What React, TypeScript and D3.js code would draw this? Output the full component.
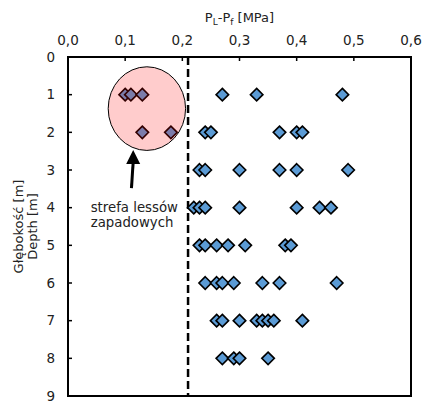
import React from "react";
import * as d3 from "d3";

const xTicks = [0, 0.1, 0.2, 0.3, 0.4, 0.5, 0.6];
const yTicks = [0, 1, 2, 3, 4, 5, 6, 7, 8, 9];
const depths = [1, 2, 3, 4, 5, 6, 7, 8];
const depth1 = [0.1, 0.11, 0.13, 0.27, 0.33, 0.48];
const depth2 = [0.13, 0.18, 0.24, 0.25, 0.37, 0.4, 0.41];
const depth3 = [0.23, 0.24, 0.3, 0.37, 0.4, 0.49];
const depth4 = [0.22, 0.23, 0.24, 0.3, 0.4, 0.44, 0.46];
const depth5 = [0.23, 0.24, 0.26, 0.28, 0.31, 0.38, 0.39];
const depth6 = [0.24, 0.26, 0.27, 0.29, 0.34, 0.37, 0.47];
const depth7 = [0.26, 0.27, 0.3, 0.33, 0.34, 0.35, 0.36, 0.41];
const depth8 = [0.27, 0.29, 0.3, 0.35];
const rows = [depth1, depth2, depth3, depth4, depth5, depth6, depth7, depth8];
const threshold = 0.21;
const zone = { cx: 0.138, cy: 1.37, rx: 0.0677, ry: 1.11 };
const annotationLines = ["strefa lessów", "zapadowych"];

const W = 425, H = 401;
const M = { left: 68, right: 14, top: 57, bottom: 5 };
const FONT = "DejaVu Sans, Verdana, sans-serif";

export default function App() {
  const x = d3.scaleLinear().domain([0, 0.6]).range([M.left, W - M.right]);
  const y = d3.scaleLinear().domain([0, 9]).range([M.top, H - M.bottom]);
  const points = rows.flatMap((r, i) => r.map((v) => ({ v, d: depths[i] })));
  const diamond = d3.symbol().type(d3.symbolDiamond2).size(100)() as string;
  const ex = x(zone.cx), ey = y(zone.cy);
  const erx = x(zone.cx + zone.rx) - ex, ery = y(zone.cy + zone.ry) - ey;
  const tipX = x(0.114), tipY = y(2.47), tailX = x(0.111), tailY = y(3.48);
  const headLen = 14, headW = 7;
  return (
    <svg width={W} height={H} style={{ position: "absolute", left: 0, top: 0, background: "#fff" }} fontFamily={FONT}>
      <text x={(x(0) + x(0.6)) / 2} y={22} fontSize={13} textAnchor="middle" fill="#222">
        P<tspan fontSize={9} dy={3}>L</tspan><tspan dy={-3}>-P</tspan><tspan fontSize={9} dy={3}>f</tspan><tspan dy={-3}> [MPa]</tspan>
      </text>
      {xTicks.map((t) => (
        <g key={t}>
          <text x={x(t)} y={45} fontSize={13.5} textAnchor="middle" fill="#222">{d3.format(".1f")(t).replace(".", ",")}</text>
          <line x1={x(t)} x2={x(t)} y1={y(0)} y2={y(0) + 4} stroke="#000" strokeWidth={1.5} />
        </g>
      ))}
      {yTicks.map((t) => (
        <g key={t}>
          <text x={55} y={y(t) + 4.5} fontSize={13.5} textAnchor="end" fill="#222">{t}</text>
          <line x1={x(0)} x2={x(0) + 4} y1={y(t)} y2={y(t)} stroke="#000" strokeWidth={1.5} />
        </g>
      ))}
      <text transform={`translate(23,${(y(0) + y(9)) / 2}) rotate(-90)`} fontSize={13} textAnchor="middle" fill="#222">Głębokość [m]</text>
      <text transform={`translate(37,${(y(0) + y(9)) / 2}) rotate(-90)`} fontSize={13} textAnchor="middle" fill="#222">Depth [m]</text>
      <line x1={x(threshold)} x2={x(threshold)} y1={y(0)} y2={y(9)} stroke="#000" strokeWidth={2.5} strokeDasharray="8,4" />
      {points.map((p, i) => (
        <path key={i} d={diamond} transform={`translate(${x(p.v)},${y(p.d)})`} fill="#5B9BD5" stroke="#000" strokeWidth={1.6} />
      ))}
      <ellipse cx={ex} cy={ey} rx={erx} ry={ery} fill="rgba(255,0,0,0.2)" stroke="#000" strokeWidth={1} />
      <line x1={tailX} y1={tailY} x2={tipX} y2={tipY + headLen - 2} stroke="#000" strokeWidth={3} />
      <path d={`M${tipX},${tipY} L${tipX - headW},${tipY + headLen} L${tipX + headW},${tipY + headLen} Z`} fill="#000" />
      {annotationLines.map((s, i) => (
        <text key={s} x={x(0.0397)} y={y(4.11) + i * 15} fontSize={13.3} fill="#222">{s}</text>
      ))}
      <rect x={x(0)} y={y(0)} width={x(0.6) - x(0)} height={y(9) - y(0)} fill="none" stroke="#000" strokeWidth={2} />
    </svg>
  );
}
